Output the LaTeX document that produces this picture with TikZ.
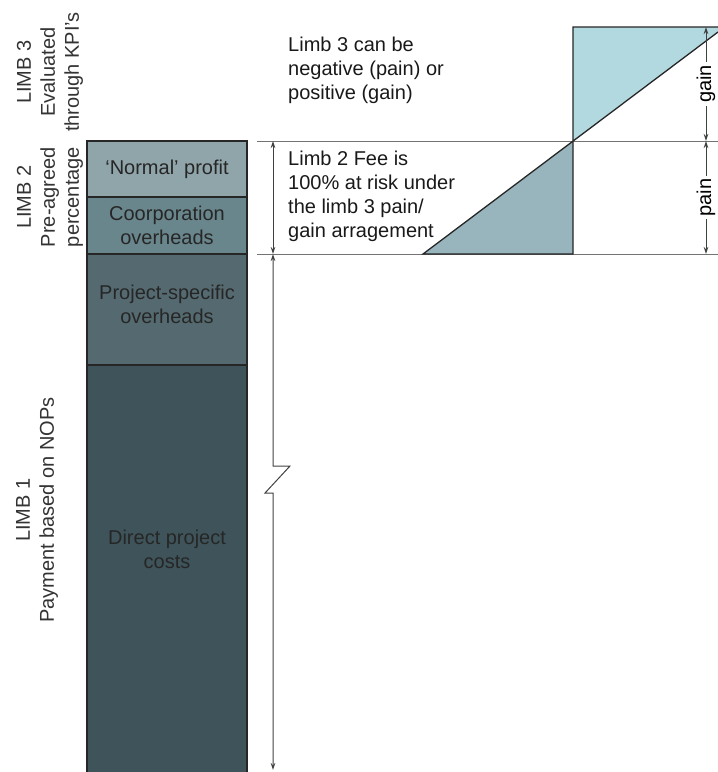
\documentclass[tikz,border=0pt]{standalone}
\usepackage{fontspec}
\setmainfont{Liberation Sans}
\usetikzlibrary{arrows.meta}

\definecolor{profitcol}{HTML}{8FA5AA}
\definecolor{corpcol}{HTML}{69868C}
\definecolor{projcol}{HTML}{546A70}
\definecolor{directcol}{HTML}{3E545A}
\definecolor{gaincol}{HTML}{B3D9E0}
\definecolor{paincol}{HTML}{98B5BE}

\begin{document}
\begin{tikzpicture}[x=1pt,y=-1pt,
  font=\fontsize{20}{24}\selectfont,
  blk/.style={draw=black!85,line width=1.3pt,minimum width=160pt,inner sep=0pt,align=center,text=black!85},
  blktxt/.style={align=center,inner sep=0pt,text=black!85},
  note/.style={anchor=north west,align=left,inner sep=0pt,text=black!90},
  limb/.style={rotate=90,align=center,inner sep=0pt,text=black!80},
  guide/.style={draw=black!55,line width=1pt},
  edge/.style={draw=black!85,line width=1.3pt},
  dim/.style={draw=black!75,line width=1pt,{Stealth[length=7pt,width=4.5pt]}-{Stealth[length=7pt,width=4.5pt]}}]
\useasboundingbox (0,0) rectangle (718,772);

%\draw[step=50,gray,very thin] (0,0) grid (718,772); %background grid

% the column
\node[blk,fill=profitcol,minimum height=56pt] (profit) at (167,169) {`Normal' profit};
\node[blk,fill=corpcol,minimum height=57pt] (corp) at (167,225.5) {Coorporation\\overheads};
\node[blk,fill=projcol,minimum height=111pt] (proj) at (167,309.5) {};
\node[blk,fill=directcol,minimum height=415pt] (direct) at (167,572.5) {};
\node[blktxt] (projtxt) at (167,304) {Project-specific\\overheads};
\node[blktxt] (directtxt) at (167,549) {Direct project\\costs};

% limb labels
\node[limb] (limb3) at (50,72) {LIMB 3\\Evaluated\\through KPI's};
\node[limb] (limb2) at (50,197) {LIMB 2\\Pre-agreed\\percentage};
\node[limb] (limb1) at (37,510) {LIMB 1\\Payment based on NOPs};

% notes
\node[note] (note3) at (288,37) {Limb 3 can be\\negative (pain) or\\positive (gain)};
\node[note] (note2) at (288,151) {Limb 2 Fee is\\100\% at risk under\\the limb 3 pain/\\gain arragement};

% pain/gain triangles
\coordinate (tip) at (573,141);
\coordinate (boxtl) at (573,27);
\coordinate (boxtr) at (718,27);
\coordinate (diagend) at (718,32);
\coordinate (diagstart) at (423,254);
\coordinate (boxbl) at (573,254);
\fill[gaincol] (tip) -- (boxtl) -- (boxtr) -- (diagend) -- cycle;
\fill[paincol] (diagstart) -- (boxbl) -- (tip) -- cycle;

% guide lines
\draw[guide] (257,141) -- (718,141);
\draw[guide] (257,254) -- (718,254);

\draw[edge] (boxtr) -- (boxtl) -- (boxbl) -- (diagstart) -- (diagend);

% dimension on the left
\coordinate (d2top) at (273,141);
\coordinate (d2bot) at (273,254);
\coordinate (d1bot) at (273,770);
\coordinate (z1) at (273,466);
\coordinate (z2) at (290,466);
\coordinate (z3) at (265,493);
\coordinate (z4) at (273,493);
\draw[dim] (d2top) -- (d2bot);
\draw[dim] (d2bot) -- (z1) -- (z2) -- (z3) -- (z4) -- (d1bot);

% dimension on the right
\coordinate (g1) at (706,27);
\coordinate (g2) at (706,141);
\coordinate (p2) at (706,254);
\draw[dim] (g1) -- node[fill=white,rotate=90,inner sep=3pt,pos=0.5] (gain) {gain} (g2);
\draw[dim] (g2) -- node[fill=white,rotate=90,inner sep=3pt,pos=0.5] (pain) {pain} (p2);
\end{tikzpicture}
\end{document}
